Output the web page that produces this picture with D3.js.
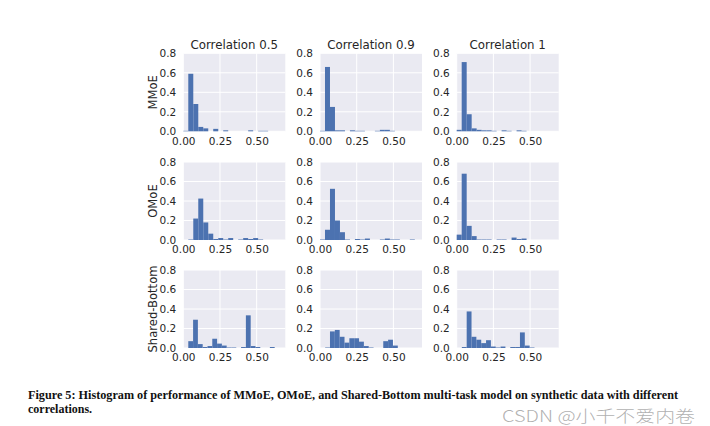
<!DOCTYPE html>
<html>
<head>
<meta charset="utf-8">
<script src="https://cdn.jsdelivr.net/npm/d3@7"></script>
<style>
  html, body { margin: 0; padding: 0; background: #ffffff; }
  svg { display: block; }
</style>
</head>
<body>
<svg id="chart" width="710" height="426"></svg>
<script>
// ---------- data ----------
const models = ["MMoE", "OMoE", "Shared-Bottom"];
const correlations = ["Correlation 0.5", "Correlation 0.9", "Correlation 1"];
const xTicks = [0, 0.25, 0.5];
const xTickLabels = ["0.00", "0.25", "0.50"];
const yTicks = [0, 0.2, 0.4, 0.6, 0.8];
const yTickLabels = ["0.0", "0.2", "0.4", "0.6", "0.8"];

// histogram bin starts / widths (x in data units) for each panel, row-major
const binStart = [0.000, 0.000, 0.000,
                  0.000, 0.000, 0.000,
                  0.034, 0.035, 0.035];
const binWidth = [0.034, 0.034, 0.034,
                  0.034, 0.034, 0.034,
                  0.0327, 0.033, 0.033];

// fraction of runs in each bin
const mmoe05 = [0.005, 0.59, 0.28, 0.045, 0.03, 0, 0.025, 0, 0.01, 0, 0, 0, 0, 0.01, 0, 0.005, 0.005];
const mmoe09 = [0.005, 0.66, 0.25, 0.01, 0.01, 0, 0.01, 0.005, 0.005, 0, 0, 0.005, 0.015, 0.015, 0.005];
const mmoe10 = [0.015, 0.71, 0.175, 0.03, 0.015, 0.01, 0.01, 0.005, 0, 0.01, 0.005, 0, 0.01, 0.005];
const omoe05 = [0, 0.005, 0.22, 0.425, 0.18, 0.065, 0.01, 0.02, 0.005, 0.02, 0, 0.005, 0.02, 0.01, 0.02, 0.005];
const omoe09 = [0.005, 0.105, 0.525, 0.2, 0.08, 0.005, 0, 0.01, 0.005, 0.015, 0, 0, 0.005, 0.015, 0.005, 0.005, 0, 0, 0.005];
const omoe10 = [0.055, 0.68, 0.145, 0.04, 0.005, 0.005, 0.005, 0, 0.005, 0.005, 0, 0.025, 0.01, 0.015];
const sb05   = [0.07, 0.29, 0.04, 0.01, 0.02, 0.095, 0.045, 0.025, 0.005, 0.005, 0, 0.01, 0.335, 0.02, 0.01, 0, 0, 0.01];
const sb09   = [0.005, 0.17, 0.185, 0.115, 0.055, 0.1, 0.1, 0.065, 0.02, 0.005, 0, 0, 0.07, 0.085, 0.025];
const sb10   = [0.01, 0.375, 0.115, 0.085, 0.05, 0.08, 0.015, 0.005, 0.015, 0, 0.01, 0.01, 0.16, 0.025, 0.005];

const panelValues = [mmoe05, mmoe09, mmoe10, omoe05, omoe09, omoe10, sb05, sb09, sb10];

const captionLines = [
  "Figure 5: Histogram of performance of MMoE, OMoE, and Shared-Bottom multi-task model on synthetic data with different",
  "correlations."
];
const watermark = "CSDN @小千不爱内卷";

// ---------- layout ----------
const svg = d3.select("#chart");
const colLeft = [183.3, 320, 456.7];
const rowTop = [53.3, 162, 270];
const pw = 102, ph = 78;

const x = d3.scaleLinear().domain([0, 0.695]).range([0, pw]);
const y = d3.scaleLinear().domain([0, 0.8]).range([ph, 0]);

const tickFont = "'DejaVu Sans', sans-serif";
const textColor = "#262626";

for (let r = 0; r < 3; r++) {
  for (let c = 0; c < 3; c++) {
    const idx = r * 3 + c;
    const g = svg.append("g").attr("transform", `translate(${colLeft[c]},${rowTop[r]})`);

    g.append("rect").attr("width", pw).attr("height", ph).attr("fill", "#EAEAF2");

    // grid
    g.selectAll(".gx").data(xTicks).enter().append("line")
      .attr("x1", d => x(d)).attr("x2", d => x(d))
      .attr("y1", 0).attr("y2", ph)
      .attr("stroke", "#ffffff").attr("stroke-width", 1);
    g.selectAll(".gy").data(yTicks).enter().append("line")
      .attr("x1", 0).attr("x2", pw)
      .attr("y1", d => y(d)).attr("y2", d => y(d))
      .attr("stroke", "#ffffff").attr("stroke-width", 1);

    // bars
    const vals = panelValues[idx];
    const bins = vals.map((v, i) => ({
      x0: binStart[idx] + i * binWidth[idx],
      x1: binStart[idx] + (i + 1) * binWidth[idx],
      v: v
    })).filter(d => d.v > 0);
    g.selectAll(".bar").data(bins).enter().append("rect")
      .attr("x", d => x(d.x0))
      .attr("width", d => Math.max(0, x(d.x1) - x(d.x0)))
      .attr("y", d => y(d.v))
      .attr("height", d => y(0) - y(d.v))
      .attr("fill", "#4C72B0");

    // x axis
    const xAxis = d3.axisBottom(x).tickValues(xTicks)
      .tickFormat((d, i) => xTickLabels[i]).tickSize(0).tickPadding(6);
    const xa = g.append("g").attr("transform", `translate(0,${ph})`).call(xAxis);
    xa.select(".domain").remove();
    xa.selectAll("text").attr("font-family", tickFont).attr("font-size", 10.5).attr("fill", textColor);

    // y axis
    const yAxis = d3.axisLeft(y).tickValues(yTicks)
      .tickFormat((d, i) => yTickLabels[i]).tickSize(0).tickPadding(7);
    const ya = g.append("g").call(yAxis);
    ya.select(".domain").remove();
    ya.selectAll("text").attr("font-family", tickFont).attr("font-size", 10.5).attr("fill", textColor);

    if (r === 0) {
      g.append("text").attr("x", pw / 2).attr("y", -4)
        .attr("text-anchor", "middle")
        .attr("font-family", tickFont).attr("font-size", 11.8).attr("fill", textColor)
        .text(correlations[c]);
    }
    if (c === 0) {
      g.append("text")
        .attr("transform", `translate(-26.5,${ph / 2}) rotate(-90)`)
        .attr("text-anchor", "middle")
        .attr("font-family", tickFont).attr("font-size", 11.6).attr("fill", textColor)
        .text(models[r]);
    }
  }
}

// caption
svg.append("text").attr("x", 28).attr("y", 399)
  .attr("font-family", "'Liberation Serif', serif").attr("font-weight", "bold")
  .attr("font-size", 12).attr("fill", "#111")
  .attr("textLength", 650).attr("lengthAdjust", "spacingAndGlyphs")
  .text(captionLines[0]);
svg.append("text").attr("x", 28).attr("y", 413)
  .attr("font-family", "'Liberation Serif', serif").attr("font-weight", "bold")
  .attr("font-size", 12).attr("fill", "#111")
  .text(captionLines[1]);

// watermark
svg.append("text").attr("x", 502).attr("y", 422)
  .attr("font-family", "'Noto Sans CJK SC', sans-serif").attr("font-weight", 300)
  .attr("font-size", 16).attr("fill", "rgba(150,150,150,0.75)")
  .attr("textLength", 193).attr("lengthAdjust", "spacingAndGlyphs")
  .text(watermark);
</script>
</body>
</html>
